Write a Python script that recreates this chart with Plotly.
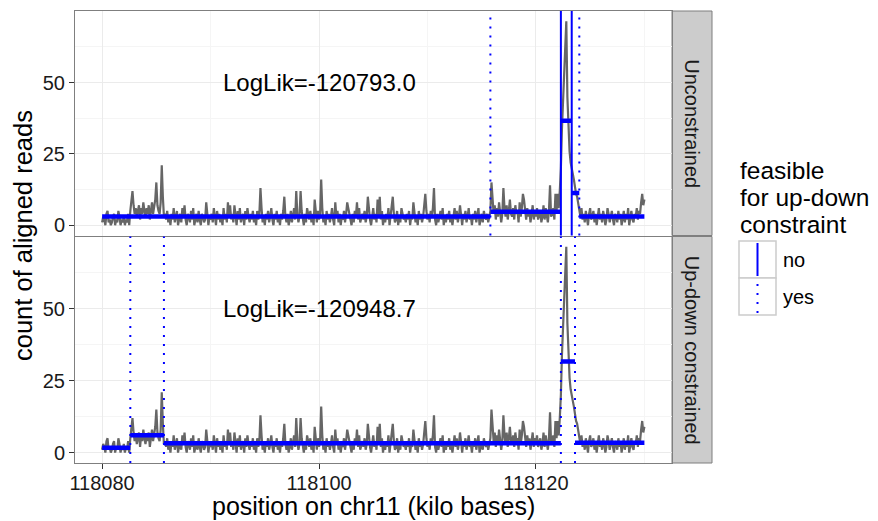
import plotly.graph_objects as go

# ---------------- data ----------------
X0 = 118080.0          # first bin start (kb)
BIN_KB = 0.1           # bin width (kb)
coverage = [
    1, 3, 2, 0, 4, 5, 1, 2, 0, 1, 3, 4, 0, 2, 1, 5, 3, 0, 2, 1,
    3, 0, 2, 1, 4, 0, 5, 8, 12, 7, 4, 6, 3, 5, 7, 2, 6, 4, 8, 5,
    3, 6, 4, 7, 2, 5, 8, 4, 6, 9, 15, 7, 5, 4, 8, 21, 10, 3, 4, 2,
    5, 1, 3, 0, 4, 2, 6, 1, 3, 5, 0, 2, 4, 1, 6, 3, 7, 2, 0, 4,
    3, 1, 5, 2, 6, 0, 3, 4, 1, 5, 2, 0, 4, 3, 1, 2, 8, 5, 0, 3,
    2, 4, 1, 6, 3, 0, 5, 2, 4, 1, 3, 0, 6, 2, 4, 1, 8, 3, 7, 2,
    4, 1, 7, 3, 0, 5, 2, 6, 1, 3, 4, 0, 5, 2, 6, 3, 1, 4, 2, 5,
    1, 3, 0, 5, 2, 4, 13, 6, 1, 3, 0, 4, 2, 5, 1, 3, 6, 2, 0, 4,
    2, 5, 1, 3, 0, 4, 2, 5, 10, 3, 1, 4, 0, 2, 5, 1, 3, 6, 2, 12,
    4, 1, 3, 12, 5, 2, 0, 4, 1, 6, 3, 2, 5, 1, 4, 0, 9, 3, 1, 5,
    2, 4, 16, 6, 1, 3, 0, 5, 2, 4, 1, 3, 6, 2, 0, 8, 3, 5, 1, 4,
    0, 3, 2, 5, 1, 4, 8, 6, 3, 2, 0, 4, 1, 5, 3, 8, 2, 6, 1, 3,
    4, 2, 5, 1, 3, 10, 4, 2, 0, 3, 6, 2, 4, 1, 9, 3, 10, 2, 5, 0,
    3, 1, 4, 2, 6, 0, 3, 5, 10, 4, 1, 2, 5, 0, 3, 1, 6, 4, 2, 3,
    1, 4, 2, 5, 0, 3, 2, 8, 4, 1, 3, 0, 5, 2, 4, 1, 3, 6, 11, 5,
    2, 4, 1, 5, 3, 6, 13, 2, 0, 4, 1, 3, 5, 2, 6, 0, 3, 1, 4, 2,
    5, 1, 3, 0, 4, 6, 2, 5, 1, 3, 7, 2, 0, 4, 2, 5, 1, 3, 6, 2,
    3, 0, 4, 2, 5, 1, 3, 6, 0, 2, 4, 1, 5, 3, 2, 4, 1, 3, 5, 15,
    9, 4, 7, 2, 6, 3, 8, 5, 1, 4, 13, 6, 3, 7, 2, 5, 9, 4, 3, 6,
    2, 7, 4, 5, 1, 8, 3, 6, 11, 9, 4, 2, 6, 3, 5, 1, 4, 7, 2, 5,
    3, 6, 2, 4, 5, 1, 3, 7, 2, 6, 4, 1, 5, 14, 3, 4, 6, 2, 11, 5,
    11, 6, 12, 20, 34, 45, 54, 65, 71.5, 45, 32, 26, 22, 19, 18, 16, 13, 11, 10, 8,
    5, 3, 6, 2, 4, 1, 5, 3, 0, 4, 6, 2, 3, 5, 1, 4, 0, 3, 6, 2,
    4, 1, 5, 3, 0, 2, 6, 4, 1, 3, 5, 2, 0, 4, 3, 1, 5, 2, 4, 0,
    3, 5, 1, 4, 2, 6, 0, 3, 5, 2, 1, 4, 3, 6, 2, 5, 4, 8, 11, 7,
    9,
]
positions = [X0 + i * BIN_KB for i in range(len(coverage))]

panels = ["Unconstrained", "Up-down constrained"]
loglik = [-120793.0, -120948.7]

seg_start = [
    [118080.0, 118115.8, 118122.3, 118123.3, 118124.0],
    [118080.0, 118082.6, 118085.7, 118122.3, 118123.6],
]
seg_end = [
    [118115.8, 118122.3, 118123.3, 118124.0, 118130.0],
    [118082.6, 118085.7, 118122.3, 118123.6, 118130.0],
]
seg_mean = [
    [3.1, 4.7, 36.6, 11.3, 3.1],
    [1.7, 6.0, 3.3, 31.7, 3.4],
]
breaks = [
    [118115.8, 118122.3, 118123.3, 118124.0],
    [118082.6, 118085.7, 118122.3, 118123.6],
]
feasible = [
    ["yes", "no", "no", "yes"],
    ["yes", "yes", "yes", "yes"],
]
x_ticks = [118080, 118100, 118120]
y_ticks = [0, 25, 50]
legend_levels = ["no", "yes"]

# ---------------- styling ----------------
FONT = "Liberation Sans, Arial, sans-serif"
GRAY = "#666666"
BLUE = "#0000ff"
BORDER = "#7f7f7f"
DASH = {"no": "solid", "yes": "2px,7px"}

W, H = 878, 521
ML, MR, MT, MB = 75, 166, 11, 58
PW, PH = W - ML - MR, H - MT - MB


def px(xp):
    return (xp - ML) / PW


def py(yp):
    return (H - MB - yp) / PH


XDOM = [0, px(671.5)]
YDOMS = [[py(235.5), 1.0], [0.0, py(236.5)]]

fig = go.Figure()

for k in range(2):
    xa = "x" if k == 0 else "x2"
    ya = "y" if k == 0 else "y2"
    fig.add_trace(go.Scatter(
        x=positions, y=coverage, mode="lines",
        line=dict(color=GRAY, width=2.2), xaxis=xa, yaxis=ya,
        showlegend=False, hoverinfo="skip"))
    sx, sy = [], []
    for s, e, m in zip(seg_start[k], seg_end[k], seg_mean[k]):
        sx += [s, e, None]
        sy += [m, m, None]
    fig.add_trace(go.Scatter(
        x=sx, y=sy, mode="lines", line=dict(color=BLUE, width=4.5),
        xaxis=xa, yaxis=ya, showlegend=False, hoverinfo="skip"))
    for b, f in zip(breaks[k], feasible[k]):
        fig.add_shape(type="line", xref=xa, yref=ya + " domain",
                      x0=b, x1=b, y0=0, y1=1,
                      line=dict(color=BLUE, width=2, dash=DASH[f]))
    fig.add_annotation(x=118100, y=50, xref=xa, yref=ya,
                       text=f"LogLik={loglik[k]:.1f}", showarrow=False,
                       xanchor="center", yanchor="middle",
                       font=dict(size=24, color="black", family=FONT))
    # strip
    fig.add_shape(type="rect", xref="paper", yref="paper",
                  x0=px(672), x1=px(712), y0=YDOMS[k][0], y1=YDOMS[k][1],
                  fillcolor="#cccccc", line=dict(color=BORDER, width=1),
                  layer="below")
    fig.add_annotation(x=px(692), y=(YDOMS[k][0] + YDOMS[k][1]) / 2,
                       xref="paper", yref="paper", text=panels[k],
                       textangle=90, showarrow=False,
                       xanchor="center", yanchor="middle",
                       font=dict(size=20, color="#1a1a1a", family=FONT))

axis_common = dict(
    showline=True, linecolor=BORDER, linewidth=1, mirror=True,
    showgrid=True, gridcolor="#ebebeb", gridwidth=1.2, zeroline=False,
    ticks="outside", ticklen=5, tickcolor="#333333", tickwidth=1,
    tickfont=dict(size=20, color="#1a1a1a", family=FONT),
)

fig.update_layout(
    width=W, height=H,
    margin=dict(l=ML, r=MR, t=MT, b=MB),
    paper_bgcolor="white", plot_bgcolor="white",
    font=dict(family=FONT),
    xaxis=dict(domain=XDOM, anchor="y", range=[118077.5, 118132.5],
               tickvals=x_ticks, showticklabels=False, ticks="",
               minor=dict(showgrid=True, gridcolor="#f5f5f5", dtick=10,
                          tick0=118080),
               **{k: v for k, v in axis_common.items()
                  if k not in ("ticks",)}),
    xaxis2=dict(domain=XDOM, anchor="y2", matches="x",
                range=[118077.5, 118132.5], tickvals=x_ticks,
                ticktext=[str(t) for t in x_ticks], ticklabelstandoff=-3,
                minor=dict(showgrid=True, gridcolor="#f5f5f5", dtick=10,
                           tick0=118080),
                **axis_common),
    yaxis=dict(domain=YDOMS[0], anchor="x", range=[-3.6, 75.1],
               tickvals=y_ticks,
               minor=dict(showgrid=True, gridcolor="#f5f5f5", dtick=12.5,
                          tick0=0),
               **axis_common),
    yaxis2=dict(domain=YDOMS[1], anchor="x2", range=[-3.6, 75.1],
                tickvals=y_ticks,
                minor=dict(showgrid=True, gridcolor="#f5f5f5", dtick=12.5,
                           tick0=0),
                **axis_common),
)

# axis titles
fig.add_annotation(x=px(373), y=py(506), xref="paper", yref="paper",
                   text="position on chr11 (kilo bases)", showarrow=False,
                   xanchor="center", yanchor="middle",
                   font=dict(size=25, color="black", family=FONT))
fig.add_annotation(x=px(23), y=py(236), xref="paper", yref="paper",
                   text="count of aligned reads", textangle=-90,
                   showarrow=False, xanchor="center", yanchor="middle",
                   font=dict(size=25.5, color="black", family=FONT))

# legend (drawn manually, ggplot-style vertical keys)
for i, line in enumerate(["feasible", "for up-down", "constraint"]):
    fig.add_annotation(x=px(738), y=py(170 + 27 * i), xref="paper",
                       yref="paper", text=line, showarrow=False,
                       xanchor="left", yanchor="middle",
                       font=dict(size=24.5, color="black", family=FONT))
KEY = 37
for i, lev in enumerate(legend_levels):
    top = 241 + KEY * i
    fig.add_shape(type="rect", xref="paper", yref="paper",
                  x0=px(739), x1=px(739 + KEY), y0=py(top + KEY), y1=py(top),
                  fillcolor="white", line=dict(color="#cccccc", width=1.5))
    fig.add_shape(type="line", xref="paper", yref="paper",
                  x0=px(757.5), x1=px(757.5), y0=py(top + KEY - 2),
                  y1=py(top + 2),
                  line=dict(color=BLUE, width=2, dash=DASH[lev]))
    fig.add_annotation(x=px(781), y=py(top + KEY / 2), xref="paper",
                       yref="paper", text=lev, showarrow=False,
                       xanchor="left", yanchor="middle",
                       font=dict(size=20, color="black", family=FONT))

fig.write_html("out.html", config={"displayModeBar": False},
               post_script="document.body.style.margin='0px';"
                           "document.body.style.padding='0px';")
